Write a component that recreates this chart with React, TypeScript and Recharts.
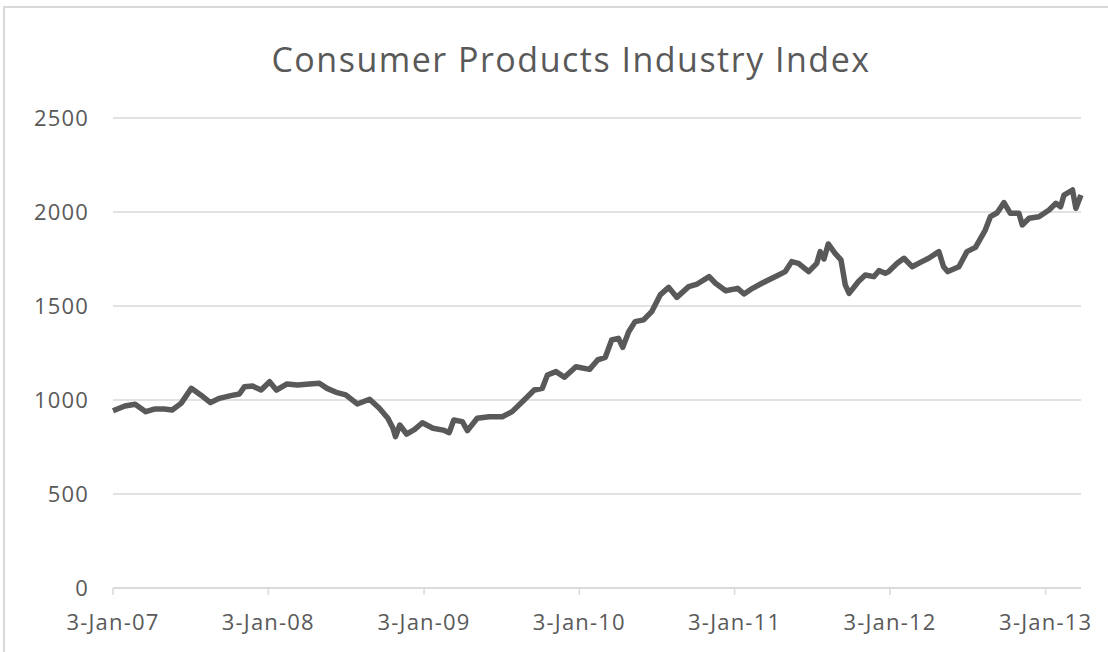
import { CartesianGrid, Line, LineChart, XAxis, YAxis } from "recharts";

const title = "Consumer Products Industry Index";

// roughly every 2-4 weeks
const dates = [
  "2007-01-03", "2007-01-31", "2007-02-24", "2007-03-21", "2007-04-10", "2007-05-03",
  "2007-05-22", "2007-06-12", "2007-07-06", "2007-07-28", "2007-08-20", "2007-09-10",
  "2007-10-07", "2007-10-27", "2007-11-08", "2007-11-27", "2007-12-17", "2008-01-06",
  "2008-01-22", "2008-02-15", "2008-03-12", "2008-04-08", "2008-05-02", "2008-05-20",
  "2008-06-13", "2008-07-03", "2008-07-30", "2008-08-28", "2008-09-20", "2008-10-10",
  "2008-10-22", "2008-10-28", "2008-11-07", "2008-11-23", "2008-12-12", "2008-12-30",
  "2009-01-24", "2009-02-17", "2009-03-03", "2009-03-14", "2009-04-03", "2009-04-15",
  "2009-05-08", "2009-06-05", "2009-07-06", "2009-07-29", "2009-08-22", "2009-09-19",
  "2009-10-08", "2009-10-20", "2009-11-09", "2009-11-29", "2009-12-26", "2010-01-27",
  "2010-02-15", "2010-03-05", "2010-03-20", "2010-04-05", "2010-04-15", "2010-04-29",
  "2010-05-14", "2010-06-03", "2010-06-22", "2010-07-12", "2010-08-01", "2010-08-20",
  "2010-09-17", "2010-10-07", "2010-11-04", "2010-11-19", "2010-12-13", "2011-01-10",
  "2011-01-25", "2011-02-14", "2011-03-08", "2011-04-08", "2011-05-02", "2011-05-17",
  "2011-06-02", "2011-06-26", "2011-07-15", "2011-07-23", "2011-08-01", "2011-08-11",
  "2011-08-27", "2011-09-10", "2011-09-20", "2011-09-29", "2011-10-21", "2011-11-06",
  "2011-11-26", "2011-12-08", "2011-12-23", "2011-12-31", "2012-01-20", "2012-02-05",
  "2012-02-24", "2012-03-18", "2012-04-03", "2012-04-27", "2012-05-08", "2012-05-18",
  "2012-06-13", "2012-07-02", "2012-07-22", "2012-08-14", "2012-08-26", "2012-09-11",
  "2012-09-27", "2012-10-12", "2012-11-01", "2012-11-09", "2012-11-25", "2012-12-18",
  "2013-01-11", "2013-01-27", "2013-02-07", "2013-02-15", "2013-03-07", "2013-03-15",
  "2013-03-27",
];

const indexValues = [
  943, 968, 977, 938, 952, 952,
  947, 982, 1062, 1027, 986, 1009,
  1023, 1032, 1071, 1074, 1053, 1097,
  1053, 1085, 1080, 1085, 1089, 1062,
  1039, 1027, 979, 1004, 956, 903,
  850, 805, 867, 819, 844, 879,
  850, 840, 826, 894, 885, 837,
  903, 911, 911, 938, 991, 1053,
  1062, 1133, 1151, 1121, 1177, 1163,
  1213, 1227, 1319, 1328, 1280, 1363,
  1417, 1426, 1470, 1559, 1599, 1546,
  1603, 1617, 1656, 1621, 1581, 1594,
  1564, 1594, 1621, 1656, 1683, 1736,
  1727, 1683, 1727, 1789, 1750, 1830,
  1780, 1745, 1612, 1567, 1630, 1665,
  1656, 1688, 1674, 1683, 1727, 1754,
  1709, 1736, 1754, 1789, 1709, 1683,
  1709, 1789, 1812, 1904, 1975, 1996,
  2050, 1993, 1993, 1931, 1967, 1975,
  2011, 2046, 2028, 2090, 2117, 2020,
  2090,
];

const yTicks = [0, 500, 1000, 1500, 2000, 2500];
const xTickDates = ["2007-01-03", "2008-01-03", "2009-01-03", "2010-01-03", "2011-01-03", "2012-01-03", "2013-01-03"];
const xTickLabels = ["3-Jan-07", "3-Jan-08", "3-Jan-09", "3-Jan-10", "3-Jan-11", "3-Jan-12", "3-Jan-13"];

const toTime = (s: string) => Date.parse(s + "T00:00:00Z");
const data = dates.map((d, i) => ({ t: toTime(d), v: indexValues[i] }));
const xTicks = xTickDates.map(toTime);
const labelFor = (t: number) => xTickLabels[xTicks.indexOf(t)] ?? "";

const ink = "#595959";
const grid = "#d9d9d9";
const font = "'Open Sans', sans-serif";
const tickStyle = { fill: ink, fontSize: 22, fontFamily: font, letterSpacing: 1.2 };

export default function App() {
  return (
    <div style={{ position: "absolute", left: 0, top: 0, width: 1108, height: 652, background: "#fff", overflow: "hidden" }}>
      <div
        style={{
          position: "absolute",
          left: 3,
          top: 6,
          width: 1120,
          height: 700,
          borderTop: `2px solid ${grid}`,
          borderLeft: `2px solid ${grid}`,
        }}
      />
      <div
        style={{
          position: "absolute",
          left: 0,
          top: 36,
          width: 1142,
          textAlign: "center",
          fontFamily: font,
          fontSize: 34,
          color: ink,
          letterSpacing: 1.5,
        }}
      >
        {title}
      </div>
      <div style={{ position: "absolute", left: 0, top: 0 }}>
        <LineChart width={1108} height={652} data={data} margin={{ top: 118, right: 27, bottom: 0, left: 53 }}>
          <CartesianGrid horizontal vertical={false} stroke={grid} strokeWidth={1.5} />
          <XAxis
            dataKey="t"
            type="number"
            scale="time"
            domain={[toTime(dates[0]), toTime(dates[dates.length - 1])]}
            ticks={xTicks}
            tickFormatter={labelFor}
            height={64}
            stroke={grid}
            strokeWidth={1.5}
            tickSize={7}
            tickMargin={19}
            tick={tickStyle}
            interval={0}
          />
          <YAxis
            type="number"
            domain={[0, 2500]}
            ticks={yTicks}
            width={60}
            axisLine={false}
            tickLine={false}
            tickSize={0}
            tickMargin={24}
            tick={tickStyle}
          />
          <Line
            type="linear"
            dataKey="v"
            stroke={ink}
            strokeWidth={5.5}
            strokeLinejoin="round"
            dot={false}
            isAnimationActive={false}
          />
        </LineChart>
      </div>
    </div>
  );
}
